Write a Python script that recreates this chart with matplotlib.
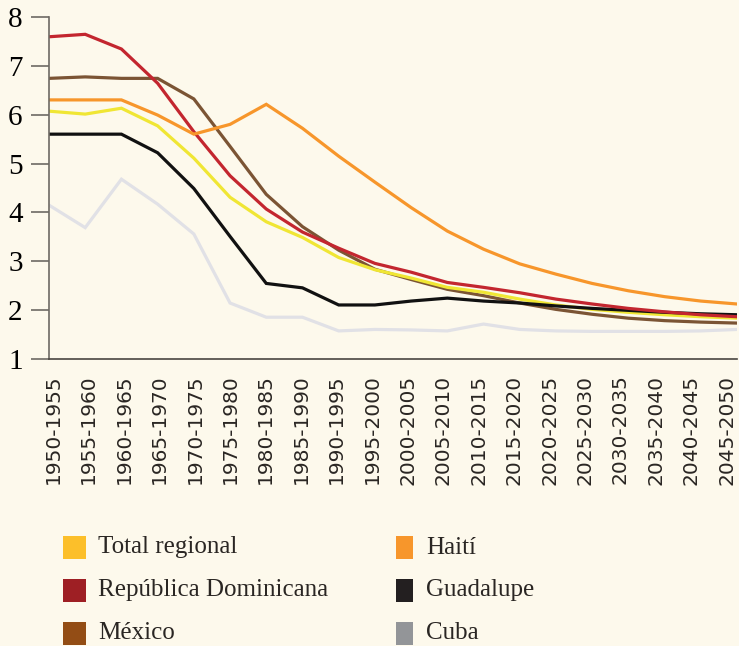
import matplotlib.pyplot as plt
import numpy as np
from matplotlib.patches import Rectangle

# ======================
# data
# ======================
periods = [f'{y}-{y + 5}' for y in range(1950, 2050, 5)]

total_regional = [6.07, 6.01, 6.13, 5.77, 5.11, 4.31, 3.81, 3.49, 3.08, 2.83,
                  2.66, 2.47, 2.37, 2.23, 2.11, 2.02, 1.96, 1.91, 1.87, 1.84]
rep_dominicana = [7.59, 7.64, 7.34, 6.64, 5.65, 4.75, 4.07, 3.60, 3.27, 2.96,
                  2.78, 2.57, 2.47, 2.36, 2.23, 2.13, 2.04, 1.97, 1.91, 1.87]
mexico = [6.74, 6.77, 6.74, 6.74, 6.32, 5.35, 4.37, 3.71, 3.23, 2.84,
          2.63, 2.43, 2.30, 2.15, 2.02, 1.92, 1.84, 1.79, 1.76, 1.74]
haiti = [6.30, 6.30, 6.30, 5.99, 5.60, 5.80, 6.21, 5.72, 5.15, 4.62,
         4.10, 3.62, 3.25, 2.95, 2.74, 2.55, 2.40, 2.28, 2.19, 2.13]
guadalupe = [5.60, 5.60, 5.60, 5.22, 4.49, 3.51, 2.55, 2.46, 2.11, 2.11,
             2.19, 2.25, 2.19, 2.15, 2.09, 2.04, 2.00, 1.96, 1.93, 1.91]
cuba = [4.15, 3.69, 4.68, 4.17, 3.56, 2.15, 1.86, 1.86, 1.58, 1.61,
        1.60, 1.58, 1.72, 1.61, 1.58, 1.57, 1.57, 1.57, 1.58, 1.61]

# legend order (two columns: left then right)
legend_labels = ['Total regional', 'República Dominicana', 'México',
                 'Haití', 'Guadalupe', 'Cuba']
legend_colors = ['#fcbf2a', '#9e1f24', '#934d15',
                 '#f7962b', '#231f20', '#939598']

# line colours (drawing order: back to front)
series = [
    (cuba, '#e1e1e6'),
    (mexico, '#7b5434'),
    (total_regional, '#f0e634'),
    (guadalupe, '#111111'),
    (rep_dominicana, '#c3262f'),
    (haiti, '#f7962b'),
]

bg = '#fdf9ec'
axis_col = '#6e6a64'

# ======================
# figure
# ======================
fig = plt.figure(figsize=(7.39, 6.46), dpi=100, facecolor=bg)
ax = fig.add_axes([49 / 739, 1 - 359.3 / 646, 688 / 739, (359.3 - 16.7) / 646])
ax.set_facecolor(bg)

x = list(range(len(periods)))
for vals, col in series:
    ax.plot(x, vals, color=col, linewidth=2.3, solid_joinstyle='miter')

ax.set_xlim(0, len(periods) - 1)
ax.set_ylim(1, 8)
ax.set_yticks(range(1, 9))
ax.set_yticklabels([str(v) for v in range(1, 9)],
                   fontfamily='Liberation Serif', fontsize=21)

# period labels are spread a bit tighter than the points (as in the source)
ax.set_xticks(np.linspace(0.11, 18.72, len(periods)))
ax.set_xticklabels(periods, rotation=90, fontfamily='DejaVu Sans',
                   fontsize=14.5, color='#2a2623')

ax.tick_params(axis='y', length=13, width=1.2, color=axis_col, pad=6)
ax.tick_params(axis='x', length=0, pad=11)

for s in ['top', 'right']:
    ax.spines[s].set_visible(False)
ax.spines['left'].set_color(axis_col)
ax.spines['bottom'].set_color('#4a4641')
ax.spines['left'].set_linewidth(1.2)
ax.spines['bottom'].set_linewidth(1.2)

# ======================
# legend (drawn by hand, two columns)
# ======================
W, H = 739, 646
col_x = [63, 396]
patch_w = [23, 17]
text_x = [98, 426]
row_y = [547.5, 590, 633]
for i, (lab, col) in enumerate(zip(legend_labels, legend_colors)):
    c, r = divmod(i, 3)
    fig.patches.append(Rectangle((col_x[c] / W, 1 - (row_y[r] + 11.5) / H),
                                 patch_w[c] / W, 23 / H,
                                 transform=fig.transFigure,
                                 facecolor=col, edgecolor='none'))
    fig.text(text_x[c] / W, 1 - row_y[r] / H, lab, va='center', ha='left',
             fontfamily='Liberation Serif', fontsize=18, color='#2a2623')

fig.savefig('out.png', dpi=100, facecolor=bg)
